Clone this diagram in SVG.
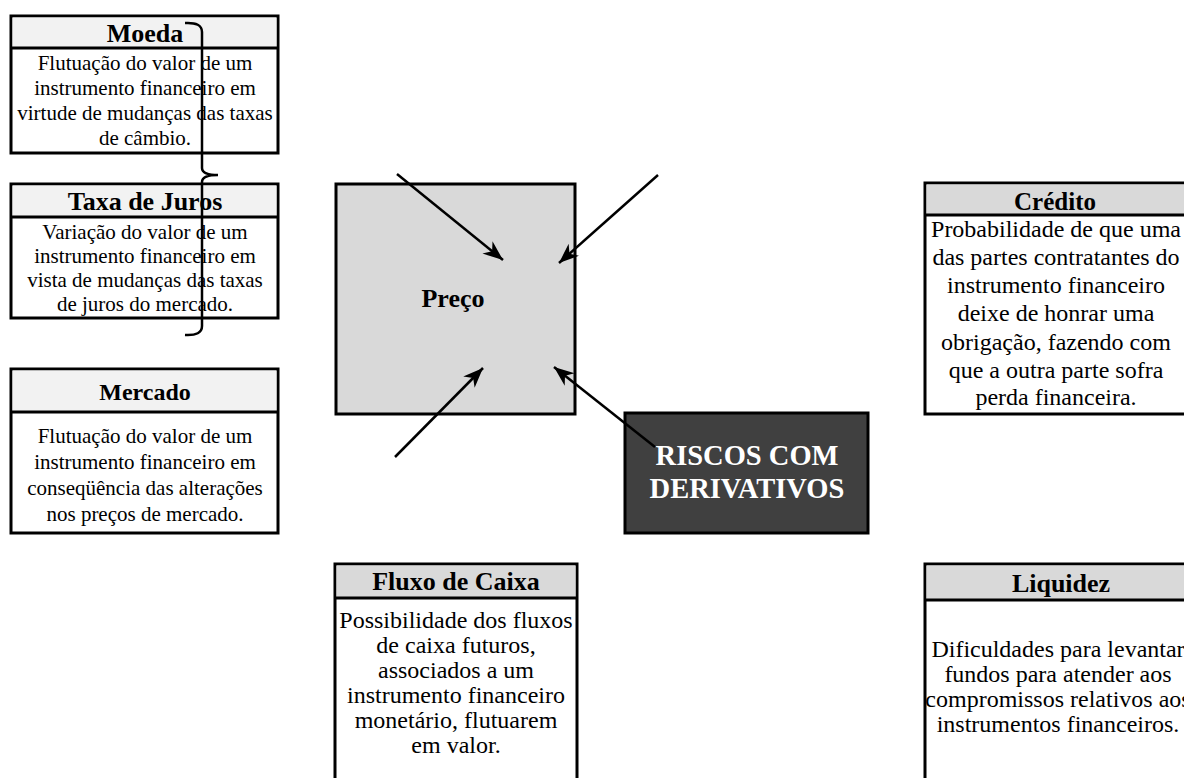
<svg xmlns="http://www.w3.org/2000/svg" width="1184" height="778" viewBox="0 0 1184 778">
<style>
.box{fill:#fff;stroke:#000;stroke-width:3}
.hdr{stroke:#000;stroke-width:3}
.t{font-family:"Liberation Serif","Times New Roman",serif;font-size:21px;fill:#000;text-anchor:middle}
.tl{font-family:"Liberation Serif","Times New Roman",serif;font-size:24px;fill:#000;text-anchor:middle}
.h{font-family:"Liberation Serif","Times New Roman",serif;font-size:26px;font-weight:bold;fill:#000;text-anchor:middle}
.w{font-family:"Liberation Serif","Times New Roman",serif;font-size:28.5px;font-weight:bold;fill:#fff;text-anchor:middle}
.arr{stroke:#000;stroke-width:2.5;fill:none;marker-end:url(#ah)}
</style>
<defs>
<marker id="ah" markerUnits="userSpaceOnUse" markerWidth="22" markerHeight="18" refX="20" refY="8" orient="auto">
<path d="M0,0 L20,8 L0,16 L6,8 z" fill="#000"/>
</marker>
</defs>
<rect width="1184" height="778" fill="#fff"/>

<g id="moeda">
<rect class="box" x="11" y="16" width="267" height="137"/>
<rect x="12.5" y="17.5" width="264" height="30.5" fill="#f2f2f2"/>
<line class="hdr" x1="11" y1="48" x2="278" y2="48"/>
<text class="h" x="145" y="42">Moeda</text>
<text class="t" x="145" y="70">Flutuação do valor de um</text>
<text class="t" x="145" y="95">instrumento financeiro em</text>
<text class="t" x="145" y="120">virtude de mudanças das taxas</text>
<text class="t" x="145" y="145">de câmbio.</text>
</g>

<g id="taxa-juros">
<rect class="box" x="11" y="184" width="267" height="134"/>
<rect x="12.5" y="185.5" width="264" height="31.5" fill="#f2f2f2"/>
<line class="hdr" x1="11" y1="217" x2="278" y2="217"/>
<text class="h" x="145" y="210">Taxa de Juros</text>
<text class="t" x="145" y="239">Variação do valor de um</text>
<text class="t" x="145" y="263">instrumento financeiro em</text>
<text class="t" x="145" y="287">vista de mudanças das taxas</text>
<text class="t" x="145" y="311">de juros do mercado.</text>
</g>

<g id="chave">
<path d="M185,23 Q202,22 202,32 L202,168 Q202,175 218,175 Q202,175 202,182 L202,326 Q202,336 185,335" fill="none" stroke="#000" stroke-width="2.5"/>
</g>

<g id="mercado">
<rect class="box" x="11" y="369" width="267" height="164"/>
<rect x="12.5" y="370.5" width="264" height="41.5" fill="#f2f2f2"/>
<line class="hdr" x1="11" y1="412" x2="278" y2="412"/>
<text class="h" x="145" y="400" style="font-size:24px">Mercado</text>
<text class="t" x="145" y="443">Flutuação do valor de um</text>
<text class="t" x="145" y="469">instrumento financeiro em</text>
<text class="t" x="145" y="495">conseqüência das alterações</text>
<text class="t" x="145" y="521">nos preços de mercado.</text>
</g>

<g id="preco">
<rect x="336" y="184" width="239" height="230" fill="#d9d9d9" stroke="#000" stroke-width="3"/>
<text class="h" x="453" y="307">Preço</text>
</g>

<g id="riscos">
<rect x="625" y="413" width="243" height="120" fill="#404040" stroke="#000" stroke-width="3"/>
<text class="w" x="747" y="465">RISCOS COM</text>
<text class="w" x="747" y="498">DERIVATIVOS</text>
</g>

<g id="credito">
<rect class="box" x="925" y="183" width="270" height="231"/>
<rect x="926.5" y="184.5" width="260" height="30.5" fill="#d9d9d9"/>
<line class="hdr" x1="925" y1="215" x2="1190" y2="215"/>
<text class="h" x="1055" y="210" style="font-size:25px">Crédito</text>
<text class="tl" x="1056" y="237">Probabilidade de que uma</text>
<text class="tl" x="1056" y="265">das partes contratantes do</text>
<text class="tl" x="1056" y="293">instrumento financeiro</text>
<text class="tl" x="1056" y="321">deixe de honrar uma</text>
<text class="tl" x="1056" y="350">obrigação, fazendo com</text>
<text class="tl" x="1056" y="378">que a outra parte sofra</text>
<text class="tl" x="1056" y="405">perda financeira.</text>
</g>

<g id="fluxo-caixa">
<rect class="box" x="335" y="564" width="242" height="230"/>
<rect x="336.5" y="565.5" width="239" height="32.5" fill="#d9d9d9"/>
<line class="hdr" x1="335" y1="598" x2="577" y2="598"/>
<text class="h" x="456" y="590">Fluxo de Caixa</text>
<text class="tl" x="456" y="628">Possibilidade dos fluxos</text>
<text class="tl" x="456" y="653">de caixa futuros,</text>
<text class="tl" x="456" y="678">associados a um</text>
<text class="tl" x="456" y="703">instrumento financeiro</text>
<text class="tl" x="456" y="728">monetário, flutuarem</text>
<text class="tl" x="456" y="753">em valor.</text>
</g>

<g id="liquidez">
<rect class="box" x="925" y="564" width="270" height="230"/>
<rect x="926.5" y="565.5" width="260" height="34.5" fill="#d9d9d9"/>
<line class="hdr" x1="925" y1="600" x2="1190" y2="600"/>
<text class="h" x="1061" y="592">Liquidez</text>
<text class="tl" x="1058" y="657">Dificuldades para levantar</text>
<text class="tl" x="1058" y="682">fundos para atender aos</text>
<text class="tl" x="1058" y="707">compromissos relativos aos</text>
<text class="tl" x="1058" y="732">instrumentos financeiros.</text>
</g>

<g id="conectores">
<line class="arr" x1="397" y1="174" x2="503" y2="260"/>
<line class="arr" x1="658" y1="175" x2="559" y2="263"/>
<line class="arr" x1="395" y1="457" x2="483" y2="368"/>
<line class="arr" x1="655" y1="447" x2="554" y2="367"/>
</g>
</svg>
